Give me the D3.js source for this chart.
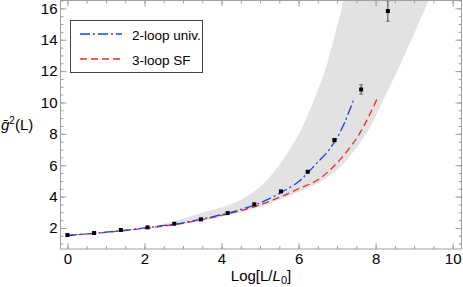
<!DOCTYPE html>
<html>
<head>
<meta charset="utf-8">
<script src="https://cdn.jsdelivr.net/npm/d3@7"></script>
<style>
  body { margin: 0; background: #fff; }
  text { font-family: "Liberation Sans", Arial, sans-serif; }
</style>
</head>
<body>
<div id="chart"></div>
<script>
// data
var pointX = [0, 0.693, 1.386, 2.079, 2.773, 3.466, 4.159, 4.852, 5.545, 6.238, 6.931, 7.625, 8.318];
var pointY = [1.55, 1.68, 1.87, 2.04, 2.27, 2.55, 2.95, 3.51, 4.33, 5.58, 7.6, 10.83, 15.83];
var pointErr = [0, 0, 0, 0, 0, 0, 0, 0, 0, 0.05, 0.1, 0.3, 0.65];

var twoLoopX = [0, 1, 2, 3, 4, 4.5, 5, 5.5, 6, 6.25, 6.5, 6.75, 7, 7.2, 7.45];
var twoLoopY = [1.52, 1.73, 2.0, 2.33, 2.85, 3.18, 3.6, 4.2, 4.95, 5.55, 6.2, 6.85, 7.75, 8.75, 10.3];

var threeLoopX = [0, 1, 2, 3, 4, 4.5, 5, 5.5, 6, 6.5, 7, 7.5, 7.8, 8.07];
var threeLoopY = [1.52, 1.72, 1.98, 2.3, 2.8, 3.1, 3.47, 3.95, 4.5, 5.07, 6.15, 7.7, 9.0, 10.4];

var bandUpperX = [1.5, 2.5, 3.45, 4.31, 5.01, 5.40, 5.71, 5.97, 6.18, 6.40, 6.72, 6.95, 7.17, 7.27];
var bandUpperY = [1.85, 2.25, 2.94, 3.57, 4.63, 5.69, 6.76, 7.81, 8.87, 10.15, 12.3, 14.4, 16.5, 17.5];
var bandLowerX = [1.5, 3, 4, 5, 5.5, 6, 6.57, 7.09, 7.78, 8.2, 8.69, 9.38, 9.6];
var bandLowerY = [1.85, 2.25, 2.72, 3.35, 3.8, 4.3, 4.95, 5.9, 8.1, 10.15, 12.69, 16.5, 17.7];

var xTicks = [0, 2, 4, 6, 8, 10];
var yTicks = [2, 4, 6, 8, 10, 12, 14, 16];
var legendLabels = ["2-loop univ.", "3-loop SF"];

var svgWidth = 463;
var svgHeight = 287;

var margin = {top: 0.5, right: 1.5, bottom: 38, left: 60.5};
var width = svgWidth - margin.left - margin.right;
var height = svgHeight - margin.top - margin.bottom;

var svg = d3.select("#chart")
  .append("svg")
  .attr("width", svgWidth)
  .attr("height", svgHeight);

var chartGroup = svg.append("g")
  .attr("transform", `translate(${margin.left}, ${margin.top})`);

var xScale = d3.scaleLinear().domain([-0.18, 10.23]).range([0, width]);
var yScale = d3.scaleLinear().domain([0.66, 16.5]).range([height, 0]);

var zip = (xs, ys) => xs.map((x, i) => [x, ys[i]]);

chartGroup.append("clipPath").attr("id", "clip")
  .append("rect").attr("width", width).attr("height", height);

var plot = chartGroup.append("g").attr("clip-path", "url(#clip)");

// grey band
var bandPts = zip(bandUpperX, bandUpperY).concat(zip(bandLowerX, bandLowerY).reverse());
plot.append("path")
  .attr("d", d3.line().x(d => xScale(d[0])).y(d => yScale(d[1])).curve(d3.curveCatmullRom)(bandPts) + "Z")
  .attr("fill", "#e2e2e2");

var curve = d3.line()
  .x(d => xScale(d[0]))
  .y(d => yScale(d[1]))
  .curve(d3.curveCatmullRom);

plot.append("path")
  .attr("d", curve(zip(threeLoopX, threeLoopY)))
  .attr("fill", "none")
  .attr("stroke", "#ee2b1f")
  .attr("stroke-width", 1.3)
  .attr("stroke-dasharray", "7,4");

plot.append("path")
  .attr("d", curve(zip(twoLoopX, twoLoopY)))
  .attr("fill", "none")
  .attr("stroke", "#1d3dff")
  .attr("stroke-width", 1.3)
  .attr("stroke-dasharray", "10,3,2,3");

// data points with error bars
var pts = zip(pointX, pointY).map((d, i) => ({x: d[0], y: d[1], e: pointErr[i]}));
var errs = plot.selectAll(".err").data(pts.filter(d => d.e > 0)).enter().append("g");
errs.append("line")
  .attr("x1", d => xScale(d.x)).attr("x2", d => xScale(d.x))
  .attr("y1", d => yScale(d.y - d.e)).attr("y2", d => yScale(d.y + d.e))
  .attr("stroke", "#222").attr("stroke-width", 0.8);
errs.append("line")
  .attr("x1", d => xScale(d.x) - 2).attr("x2", d => xScale(d.x) + 2)
  .attr("y1", d => yScale(d.y - d.e)).attr("y2", d => yScale(d.y - d.e))
  .attr("stroke", "#555").attr("stroke-width", 0.8);
errs.append("line")
  .attr("x1", d => xScale(d.x) - 2).attr("x2", d => xScale(d.x) + 2)
  .attr("y1", d => yScale(d.y + d.e)).attr("y2", d => yScale(d.y + d.e))
  .attr("stroke", "#555").attr("stroke-width", 0.8);

plot.selectAll(".pt").data(pts).enter().append("rect")
  .attr("x", d => xScale(d.x) - 2)
  .attr("y", d => yScale(d.y) - 2)
  .attr("width", 4).attr("height", 4)
  .attr("fill", "#000");

// frame and ticks (inward, on all four sides)
var xMinor = d3.range(0, 10.3, 0.5);
var yMinor = d3.range(1, 16.6, 0.5);
var frameColor = "#a0a0a0";

function styleAxis(g) {
  g.select(".domain").remove();
  g.selectAll(".tick line").attr("stroke", frameColor);
  g.selectAll(".tick text").attr("font-size", "15px").attr("fill", "#000");
}

chartGroup.append("g").attr("transform", `translate(0, ${height})`)
  .call(d3.axisBottom(xScale).tickValues(xMinor).tickSize(-3).tickFormat("")).call(styleAxis);
chartGroup.append("g").attr("transform", `translate(0, ${height})`)
  .call(d3.axisBottom(xScale).tickValues(xTicks).tickSize(-6).tickPadding(10).tickFormat(d3.format("d")))
  .call(styleAxis)
  .selectAll(".tick text").attr("dy", "0").attr("y", 15);
chartGroup.append("g")
  .call(d3.axisTop(xScale).tickValues(xMinor).tickSize(-3).tickFormat("")).call(styleAxis);
chartGroup.append("g")
  .call(d3.axisTop(xScale).tickValues(xTicks).tickSize(-6).tickFormat("")).call(styleAxis);

chartGroup.append("g")
  .call(d3.axisLeft(yScale).tickValues(yMinor).tickSize(-3).tickFormat("")).call(styleAxis);
chartGroup.append("g")
  .call(d3.axisLeft(yScale).tickValues(yTicks).tickSize(-6).tickPadding(9).tickFormat(d3.format("d")))
  .call(styleAxis)
  .selectAll(".tick text").attr("x", -3);
chartGroup.append("g").attr("transform", `translate(${width}, 0)`)
  .call(d3.axisRight(yScale).tickValues(yMinor).tickSize(-3).tickFormat("")).call(styleAxis);
chartGroup.append("g").attr("transform", `translate(${width}, 0)`)
  .call(d3.axisRight(yScale).tickValues(yTicks).tickSize(-6).tickFormat("")).call(styleAxis);

chartGroup.append("rect")
  .attr("width", width).attr("height", height)
  .attr("fill", "none").attr("stroke", frameColor).attr("stroke-width", 1);

// axis labels
var xLabel = svg.append("text")
  .attr("x", margin.left + width / 2)
  .attr("y", 281)
  .attr("text-anchor", "middle")
  .attr("font-size", "15px");
xLabel.append("tspan").text("Log[L/");
xLabel.append("tspan").attr("font-style", "italic").text("L");
xLabel.append("tspan").attr("font-size", "11px").attr("dy", 3).text("0");
xLabel.append("tspan").attr("dy", -3).text("]");

var yLabel = svg.append("text")
  .attr("x", 1)
  .attr("y", 130)
  .attr("font-size", "15px");
yLabel.append("tspan").attr("font-style", "italic").text("\u1E21");
yLabel.append("tspan").attr("font-size", "10px").attr("dy", -6).text("2");
yLabel.append("tspan").attr("dy", 6).text("(L)");

// legend
var legend = svg.append("g");
legend.append("rect")
  .attr("x", 70.5).attr("y", 20.5)
  .attr("width", 132).attr("height", 52)
  .attr("fill", "#fff").attr("stroke", "#444").attr("stroke-width", 1);

var legendStyles = [
  {color: "#1d3dff", dash: "10,3,2,3"},
  {color: "#ee2b1f", dash: "7,4"}
];
legendLabels.forEach(function(label, i) {
  var ly = 34 + i * 25;
  legend.append("line")
    .attr("x1", 80).attr("x2", 122)
    .attr("y1", ly).attr("y2", ly)
    .attr("stroke", legendStyles[i].color)
    .attr("stroke-width", 1.3)
    .attr("stroke-dasharray", legendStyles[i].dash);
  legend.append("text")
    .attr("x", 132).attr("y", ly + 5.5)
    .attr("font-size", "13.5px")
    .text(label);
});
</script>
</body>
</html>
